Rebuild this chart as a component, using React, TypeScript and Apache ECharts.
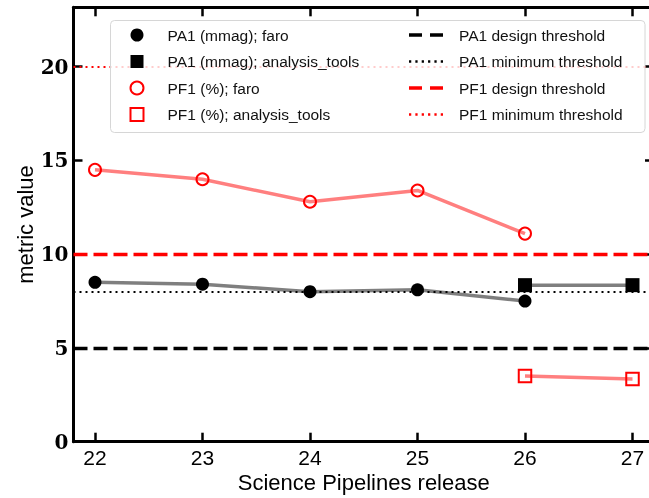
import React, { useEffect, useRef } from "react";
import * as echarts from "echarts";

// ---- data ----
const releases = [22, 23, 24, 25, 26, 27];
const yTicks = [0, 5, 10, 15, 20];
const faroReleases = [22, 23, 24, 25, 26];
const pa1Faro = [8.5, 8.4, 8.0, 8.1, 7.5];
const pf1Faro = [14.5, 14.0, 12.8, 13.4, 11.1];
const atReleases = [26, 27];
const pa1AnalysisTools = [8.35, 8.35];
const pf1AnalysisTools = [3.5, 3.35];
const thresholdNames = [
  "PA1 design threshold",
  "PA1 minimum threshold",
  "PF1 design threshold",
  "PF1 minimum threshold",
];
const thresholdValues = [5, 8, 10, 20];
const markerNames = [
  "PA1 (mmag); faro",
  "PA1 (mmag); analysis_tools",
  "PF1 (%); faro",
  "PF1 (%); analysis_tools",
];

const SANS = "Liberation Sans, Arial, sans-serif";
const SERIF = "DejaVu Serif, serif";

const zip = (xs: number[], ys: number[]) => xs.map((x, i) => [x, ys[i]]);

const DASH_ICON = "path://M0,0h13v3.6h-13z M21,0h13v3.6h-13z";
const DOT_ICON =
  "path://M0,0h2.2v2.2h-2.2z M6.2,0h2.2v2.2h-2.2z M12.4,0h2.2v2.2h-2.2z M18.6,0h2.2v2.2h-2.2z M24.8,0h2.2v2.2h-2.2z M31,0h2.2v2.2h-2.2z";

export default function App() {
  const ref = useRef<HTMLDivElement>(null);

  useEffect(() => {
    if (!ref.current) return;
    const chart = echarts.init(ref.current, null, { renderer: "svg" });

    const axisLine = { show: true, onZero: false, lineStyle: { color: "#000", width: 3 } };
    const tickStyle = { color: "#000", width: 2.5 };

    const thresholdColors = ["#000000", "#000000", "#ff0000", "#ff0000"];
    const thresholdStyles = [
      { color: thresholdColors[0], width: 3.4, type: [14, 6] },
      { color: thresholdColors[1], width: 2, type: [2, 4] },
      { color: thresholdColors[2], width: 3.4, type: [14, 6] },
      { color: thresholdColors[3], width: 2.2, type: [2, 4] },
    ];
    const thresholdIcons = [DASH_ICON, DOT_ICON, DASH_ICON, DOT_ICON];

    const thresholdSeries = thresholdNames.map((name, i) => ({
      name,
      type: "line",
      data: [],
      symbol: "none",
      z: 1,
      itemStyle: { color: thresholdColors[i] },
      lineStyle: thresholdStyles[i],
      markLine: {
        silent: true,
        symbol: ["none", "none"],
        label: { show: false },
        lineStyle: thresholdStyles[i],
        emphasis: { disabled: true },
        data: [{ yAxis: thresholdValues[i] }],
      },
    }));

    const markerSeries = [
      {
        name: markerNames[0],
        type: "line",
        data: zip(faroReleases, pa1Faro),
        symbol: "circle",
        symbolSize: 13,
        itemStyle: { color: "#000" },
        lineStyle: { color: "rgba(0,0,0,0.5)", width: 3.5 },
        z: 3,
      },
      {
        name: markerNames[1],
        type: "line",
        data: zip(atReleases, pa1AnalysisTools),
        symbol: "rect",
        symbolSize: 14,
        itemStyle: { color: "#000" },
        lineStyle: { color: "rgba(0,0,0,0.5)", width: 3.5 },
        z: 3,
      },
      {
        name: markerNames[2],
        type: "line",
        data: zip(faroReleases, pf1Faro),
        symbol: "circle",
        symbolSize: 12,
        itemStyle: { color: "rgba(0,0,0,0)", borderColor: "#ff0000", borderWidth: 2 },
        lineStyle: { color: "rgba(255,0,0,0.5)", width: 3.5 },
        z: 3,
      },
      {
        name: markerNames[3],
        type: "line",
        data: zip(atReleases, pf1AnalysisTools),
        symbol: "rect",
        symbolSize: 12.5,
        itemStyle: { color: "rgba(0,0,0,0)", borderColor: "#ff0000", borderWidth: 2 },
        lineStyle: { color: "rgba(255,0,0,0.5)", width: 3.5 },
        z: 3,
      },
    ];

    const legendText = {
      fontFamily: SANS,
      fontSize: 15.5,
      color: "#111",
      lineHeight: 18,
    };

    const option = {
      animation: false,
      grid: {
        left: 73.5,
        right: -5,
        top: 7.3,
        bottom: 56.3,
        containLabel: false,
        outerBoundsMode: "none",
      },
      xAxis: [
        {
          type: "value",
          min: 21.8,
          max: 27.2,
          position: "bottom",
          axisLine,
          splitLine: { show: false },
          axisTick: { show: true, inside: true, length: 9, lineStyle: tickStyle, customValues: releases },
          axisLabel: {
            customValues: releases,
            fontFamily: SANS,
            fontSize: 21,
            color: "#000",
            margin: 5,
          },
          name: "Science Pipelines release",
          nameLocation: "middle",
          nameGap: 30,
          nameMoveOverlap: false,
          nameTextStyle: { fontFamily: SANS, fontSize: 22, color: "#000" },
        },
        {
          type: "value",
          min: 21.8,
          max: 27.2,
          position: "top",
          axisLine,
          splitLine: { show: false },
          axisTick: { show: true, inside: true, length: 9, lineStyle: tickStyle, customValues: releases },
          axisLabel: { show: false, customValues: releases },
        },
      ],
      yAxis: [
        {
          type: "value",
          min: 0,
          max: 23.17,
          position: "left",
          axisLine,
          splitLine: { show: false },
          axisTick: { show: true, inside: true, length: 9, lineStyle: tickStyle, customValues: yTicks },
          axisLabel: {
            customValues: yTicks,
            fontFamily: SERIF,
            fontWeight: "bold",
            fontSize: 20,
            color: "#000",
            margin: 5,
          },
          name: "metric value",
          nameLocation: "middle",
          nameGap: 37,
          nameMoveOverlap: false,
          nameRotate: 90,
          nameTextStyle: { fontFamily: SANS, fontSize: 22, color: "#000" },
        },
        {
          type: "value",
          min: 0,
          max: 23.17,
          position: "right",
          axisLine,
          splitLine: { show: false },
          axisTick: { show: true, inside: true, length: 9, lineStyle: tickStyle, customValues: yTicks },
          axisLabel: { show: false, customValues: yTicks },
        },
      ],
      legend: [
        {
          selectedMode: false,
          orient: "vertical",
          left: 129.5,
          top: 26,
          padding: 0,
          itemWidth: 13,
          itemHeight: 13,
          itemGap: 8.5,
          z: 11,
          textStyle: { ...legendText, padding: [0, 0, 0, 19] },
          data: [
            { name: markerNames[0], icon: "circle", itemStyle: { color: "#000", borderWidth: 0 } },
            { name: markerNames[1], icon: "rect", itemStyle: { color: "#000", borderWidth: 0 } },
            {
              name: markerNames[2],
              icon: "circle",
              itemStyle: { color: "rgba(0,0,0,0)", borderColor: "#ff0000", borderWidth: 2 },
            },
            {
              name: markerNames[3],
              icon: "rect",
              itemStyle: { color: "rgba(0,0,0,0)", borderColor: "#ff0000", borderWidth: 2 },
            },
          ],
        },
        {
          selectedMode: false,
          orient: "vertical",
          left: 409,
          top: 26,
          padding: 0,
          itemWidth: 34,
          itemHeight: 13,
          itemGap: 8.5,
          z: 11,
          symbolKeepAspect: true,
          textStyle: { ...legendText, padding: [0, 0, 0, 11] },
          data: thresholdNames.map((name, i) => ({
            name,
            icon: thresholdIcons[i],
            symbolKeepAspect: true,
            itemStyle: { color: thresholdColors[i], borderWidth: 0 },
          })),
        },
      ],
      graphic: [
        {
          type: "rect",
          z: 10,
          silent: true,
          shape: { x: 110.5, y: 20.5, width: 534.5, height: 112, r: 4 },
          style: { fill: "rgba(255,255,255,0.8)", stroke: "#d6d6d6", lineWidth: 1 },
        },
      ],
      series: [...thresholdSeries, ...markerSeries],
    };

    chart.setOption(option as any);
    return () => chart.dispose();
  }, []);

  return (
    <div
      ref={ref}
      style={{ position: "fixed", left: 0, top: 0, width: 649, height: 498 }}
    />
  );
}
